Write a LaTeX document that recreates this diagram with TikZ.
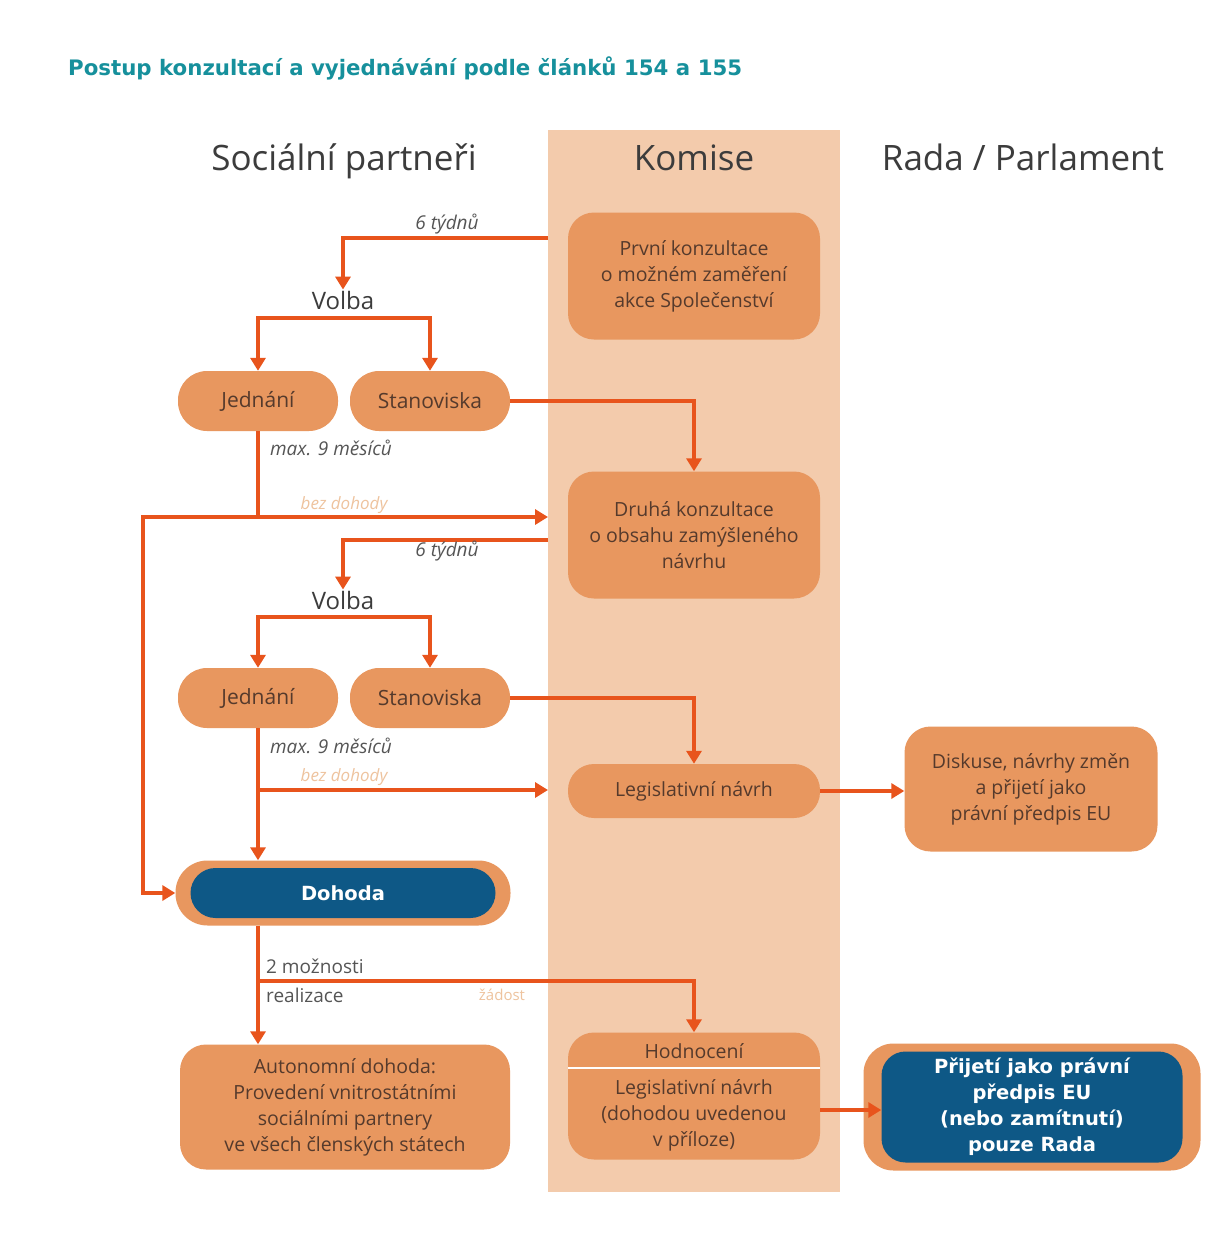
\documentclass[tikz,border=0pt]{standalone}
\usepackage{fontspec}
\setmainfont{Open Sans}
\newfontfamily\titlefont{DejaVu Sans}
\usetikzlibrary{arrows.meta}
\definecolor{colbg}{HTML}{F3CBAC}
\definecolor{boxfill}{HTML}{E8975F}
\definecolor{boxtext}{HTML}{553A2C}
\definecolor{arrowc}{HTML}{E8541C}
\definecolor{eublue}{HTML}{0E5886}
\definecolor{titlec}{HTML}{16909C}
\definecolor{headc}{HTML}{3C3C3C}
\definecolor{lblc}{HTML}{555555}
\definecolor{faint}{HTML}{EEC39E}
\tikzset{
  obox/.style={draw=none, fill=boxfill, rounded corners=26pt, text=boxtext, align=center, font=\fontsize{19.5}{26}\selectfont, inner sep=0pt},
  pill/.style={draw=none, fill=boxfill, rounded corners=29pt, text=boxtext, font=\fontsize{21}{24}\selectfont, minimum width=160pt, minimum height=60pt, inner sep=0pt},
  bluebox/.style={draw=none, fill=eublue, text=white, align=center, font=\titlefont\bfseries\fontsize{19.5}{26}\selectfont, inner sep=0pt},
  ln/.style={draw=arrowc, line width=3.6pt},
  arr/.style={ln, -{Triangle[length=13pt,width=15pt]}},
  head/.style={text=headc, font=\fontsize{35}{40}\selectfont, anchor=base},
  volba/.style={text=headc, font=\fontsize{24}{28}\selectfont, inner sep=1pt},
  ital/.style={text=lblc, font=\itshape\fontsize{19}{22}\selectfont},
  faintlbl/.style={text=faint, font=\itshape\fontsize{17}{20}\selectfont},
  plain/.style={text=lblc, font=\fontsize{19}{22}\selectfont, anchor=west, inner sep=0pt},
}
\begin{document}
\begin{tikzpicture}[x=1pt,y=-1pt]
\useasboundingbox (0,0) rectangle (1215,1239);
\fill[white] (0,0) rectangle (1215,1239);
% Komise column
\fill[colbg] (548,130) rectangle (840,1192);
% title
\node[anchor=west, text=titlec, font=\titlefont\bfseries\fontsize{21.3}{25}\selectfont, inner sep=0pt] (title) at (68,68) {Postup konzultací a vyjednávání podle článků 154 a 155};
% headings
\node[head] (h1) at (344,170) {Sociální partneři};
\node[head] (h2) at (694,170) {Komise};
\node[head] (h3) at (1023,170) {Rada / Parlament};
% Komise boxes
\node[obox, minimum width=252pt, minimum height=127pt] (k1) at (694,276) {První konzultace\\o možném zaměření\\akce Společenství};
\node[obox, minimum width=252pt, minimum height=127pt] (k2) at (694,535) {Druhá konzultace\\o obsahu zamýšleného\\návrhu};
\node[obox, minimum width=252pt, minimum height=54pt, rounded corners=26pt] (leg) at (694,791) {Legislativní návrh};
\node[obox, minimum width=252pt, minimum height=127pt] (hod) at (694,1096) {};
\draw[white, line width=2.5pt] (hod.west |- 0,1068) -- (hod.east |- 0,1068);
\node[text=boxtext, font=\fontsize{19.5}{22}\selectfont] (hodt) at (694,1051) {Hodnocení};
\node[text=boxtext, align=center, font=\fontsize{19.5}{26}\selectfont] (hodl) at (694,1115) {Legislativní návrh\\(dohodou uvedenou\\v příloze)};
% Rada box
\node[obox, minimum width=253pt, minimum height=125pt] (dis) at (1031,789) {Diskuse, návrhy změn\\a přijetí jako\\právní předpis EU};
\node[fill=boxfill, rounded corners=30pt, minimum width=337pt, minimum height=127pt, inner sep=0pt] (pout) at (1032,1107) {};
\node[bluebox, rounded corners=24pt, minimum width=301pt, minimum height=111pt] (pin) at (1032,1107) {Přijetí jako právní\\předpis EU\\(nebo zamítnutí)\\pouze Rada};
% Social partners
\node[volba] (v1) at (343,300) {Volba};
\node[pill] (j1) at (258,401) {Jednání};
\node[pill] (st1) at (430,401) {Stanoviska};
\node[volba] (v2) at (343,600) {Volba};
\node[pill] (j2) at (258,698) {Jednání};
\node[pill] (st2) at (430,698) {Stanoviska};
\node[fill=boxfill, rounded corners=32pt, minimum width=335pt, minimum height=65pt, inner sep=0pt] (dout) at (343,893) {};
\node[fill=eublue, rounded corners=25pt, minimum width=305pt, minimum height=50pt, inner sep=0pt, text=white, font=\titlefont\bfseries\fontsize{19.5}{22}\selectfont] (din) at (343,893) {Dohoda};
\node[obox, minimum width=330pt, minimum height=125pt] (aut) at (345,1107) {Autonomní dohoda:\\Provedení vnitrostátními\\sociálními partnery\\ve všech členských státech};
% coordinates
\coordinate (c1) at (548,238);
\coordinate (s1) at (343,318);
\coordinate (b1) at (258,517);
\coordinate (lft) at (143,517);
\coordinate (e1) at (548,517);
\coordinate (c2) at (548,540);
\coordinate (s2) at (343,617);
\coordinate (b2) at (258,790);
\coordinate (e2) at (548,790);
\coordinate (b3) at (258,981);
\coordinate (hx) at (820,1110);
% connectors
\draw[arr] (c1) -| (v1.north);
\draw[arr] (s1) -| (j1.north);
\draw[arr] (s1) -| (st1.north);
\draw[arr] (st1.east) -| (k2.north);
\draw[arr] (j1.south) |- (e1);
\draw[arr] (b1) -- (lft) |- (dout.west);
\draw[arr] (c2) -| (v2.north);
\draw[arr] (s2) -| (j2.north);
\draw[arr] (s2) -| (st2.north);
\draw[arr] (st2.east) -| (leg.north);
\draw[arr] (j2.south) -- (j2.south |- dout.north);
\draw[arr] (b2) -- (e2);
\draw[arr] (leg.east) -- (leg.east -| dis.west);
\draw[arr] (j2.south |- dout.south) -- (j2.south |- aut.north);
\draw[arr] (b3) -| (hod.north);
\draw[arr] (hx) -- (hx -| pin.west);
% labels
\node[ital] (l1) at (447,224) {6 týdnů};
\node[ital] (l2) at (331,448) {max. 9 měsíců};
\node[faintlbl] (l3) at (344,505) {bez dohody};
\node[ital] (l4) at (447,551) {6 týdnů};
\node[ital] (l5) at (331,746) {max. 9 měsíců};
\node[faintlbl] (l6) at (344,777) {bez dohody};
\node[plain] (l7) at (266,966) {2 možnosti};
\node[plain] (l8) at (266,995) {realizace};
\node[faintlbl, font=\fontsize{15}{18}\selectfont] (l9) at (502,995) {žádost};
\end{tikzpicture}
\end{document}
